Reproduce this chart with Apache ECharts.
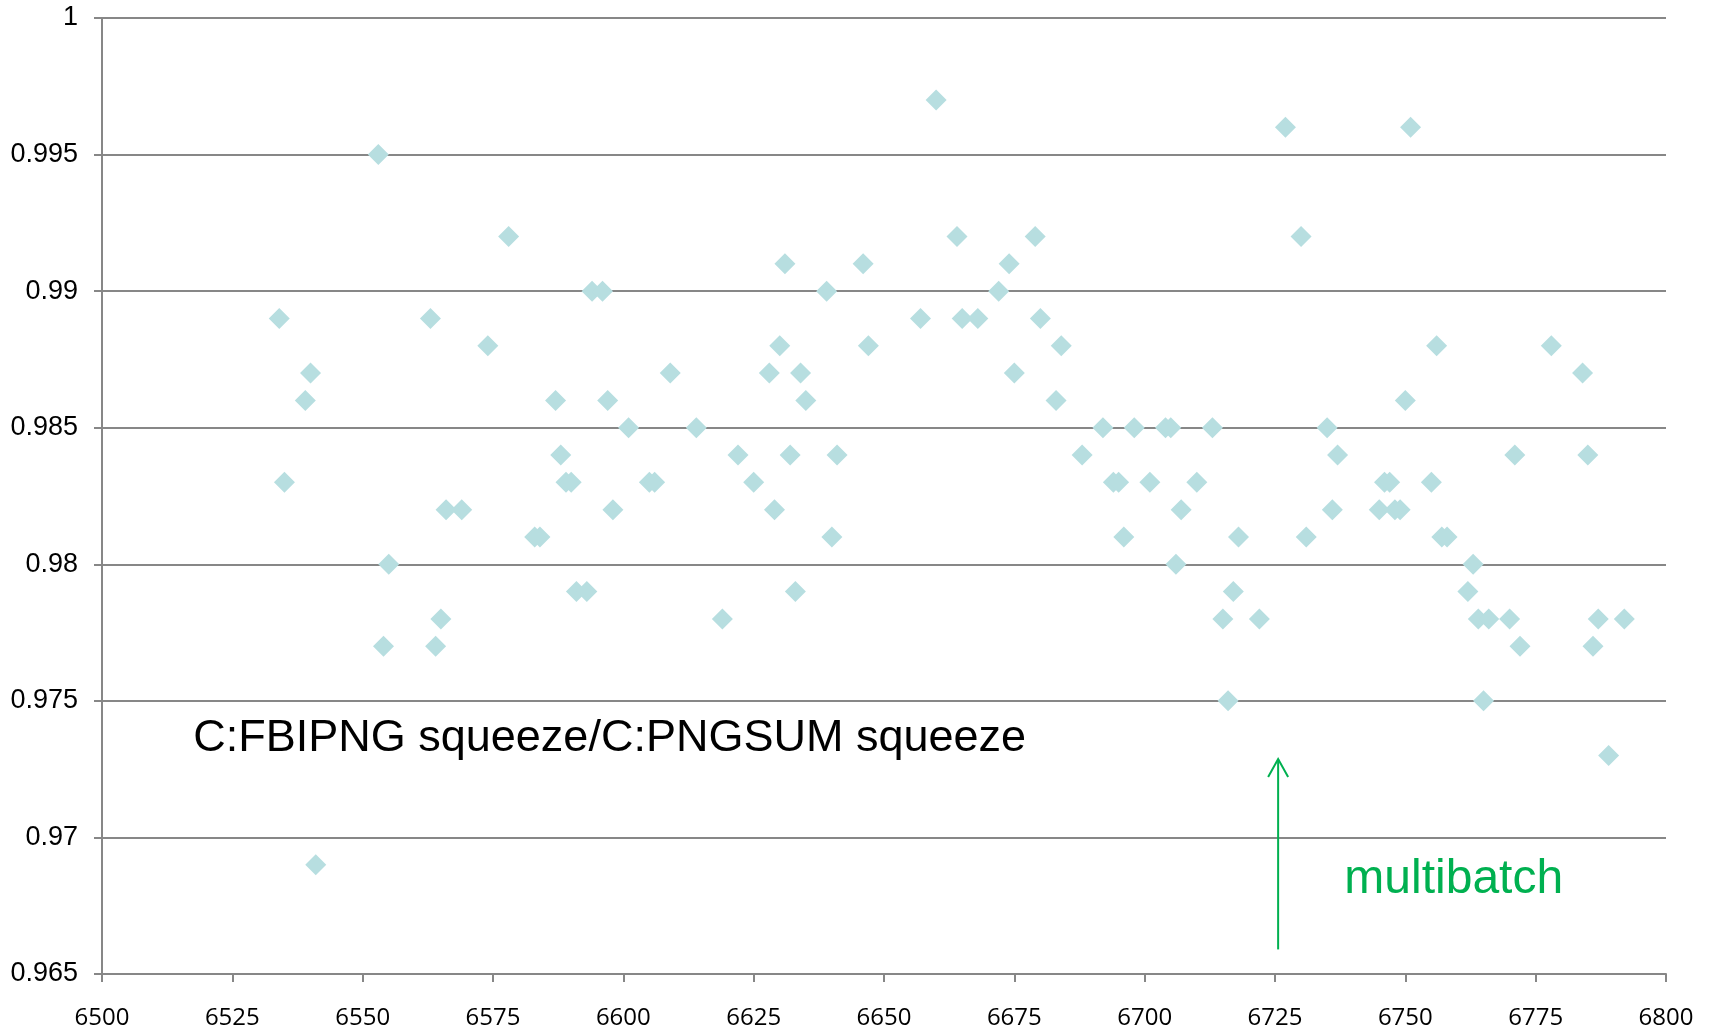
<!DOCTYPE html>
<html>
<head>
<meta charset="utf-8">
<title>C:FBIPNG squeeze / C:PNGSUM squeeze</title>
<script src="https://cdn.jsdelivr.net/npm/echarts@6/dist/echarts.min.js"></script>
<style>
  html, body { margin: 0; padding: 0; background: #ffffff; }
  #chart { width: 1710px; height: 1031px; }
</style>
</head>
<body>
<div id="chart"></div>
<script>
// Build number of each measurement
const builds = [
  6534, 6535, 6539, 6540, 6541, 6553, 6554, 6555, 6563, 6564,
  6565, 6566, 6569, 6574, 6578, 6583, 6584, 6587, 6588, 6589,
  6590, 6591, 6593, 6594, 6596, 6597, 6598, 6601, 6605, 6606,
  6609, 6614, 6619, 6622, 6625, 6628, 6629, 6630, 6631, 6632,
  6633, 6634, 6635, 6639, 6640, 6641, 6646, 6647, 6657, 6660,
  6664, 6665, 6668, 6672, 6674, 6675, 6679, 6680, 6683, 6684,
  6688, 6692, 6694, 6695, 6696, 6698, 6701, 6704, 6705, 6706,
  6707, 6710, 6713, 6715, 6716, 6717, 6718, 6722, 6727, 6730,
  6731, 6735, 6736, 6737, 6745, 6746, 6747, 6748, 6749, 6750,
  6751, 6755, 6756, 6757, 6758, 6762, 6763, 6764, 6765, 6766,
  6770, 6771, 6772, 6778, 6784, 6785, 6786, 6787, 6789, 6792
];

// Size ratio FBIPNG squeeze / PNGSUM squeeze for each build
const ratios = [
  0.989, 0.983, 0.986, 0.987, 0.969, 0.995, 0.977, 0.980, 0.989, 0.977,
  0.978, 0.982, 0.982, 0.988, 0.992, 0.981, 0.981, 0.986, 0.984, 0.983,
  0.983, 0.979, 0.979, 0.990, 0.990, 0.986, 0.982, 0.985, 0.983, 0.983,
  0.987, 0.985, 0.978, 0.984, 0.983, 0.987, 0.982, 0.988, 0.991, 0.984,
  0.979, 0.987, 0.986, 0.990, 0.981, 0.984, 0.991, 0.988, 0.989, 0.997,
  0.992, 0.989, 0.989, 0.990, 0.991, 0.987, 0.992, 0.989, 0.986, 0.988,
  0.984, 0.985, 0.983, 0.983, 0.981, 0.985, 0.983, 0.985, 0.985, 0.980,
  0.982, 0.983, 0.985, 0.978, 0.975, 0.979, 0.981, 0.978, 0.996, 0.992,
  0.981, 0.985, 0.982, 0.984, 0.982, 0.983, 0.983, 0.982, 0.982, 0.986,
  0.996, 0.983, 0.988, 0.981, 0.981, 0.979, 0.980, 0.978, 0.975, 0.978,
  0.978, 0.984, 0.977, 0.988, 0.987, 0.984, 0.977, 0.978, 0.973, 0.978
];

// Axis ranges
const xRange = [6500, 6800];
const xStep = 25;
const yRange = [0.965, 1];
const yStep = 0.005;

// Annotations (anchored in data coordinates)
const titleText = 'C:FBIPNG squeeze/C:PNGSUM squeeze';
const titleAnchor = [6517.5, 0.97363];
const batchText = 'multibatch';
const batchAnchor = [6738.3, 0.96844];
const arrowX = 6725.6;
const arrowFrom = 0.96590;
const arrowTo = 0.97287;

const points = builds.map((b, i) => [b, ratios[i]]);

const gridGray = '#878787';
const green = '#00b050';

const chart = echarts.init(document.getElementById('chart'), null, { renderer: 'canvas' });

chart.setOption({
  animation: false,
  backgroundColor: '#ffffff',
  grid: { left: 102, right: 44, top: 18, bottom: 57, containLabel: false },
  xAxis: {
    type: 'value',
    min: xRange[0],
    max: xRange[1],
    interval: xStep,
    axisLine: { show: true, onZero: false, lineStyle: { color: gridGray, width: 2 } },
    axisTick: { show: true, inside: false, length: 8, lineStyle: { color: gridGray, width: 2 } },
    splitLine: { show: false },
    axisLabel: {
      margin: 32,
      color: '#000000',
      fontFamily: '"Open Sans", sans-serif',
      fontSize: 24,
      formatter: v => String(v)
    }
  },
  yAxis: {
    type: 'value',
    min: yRange[0],
    max: yRange[1],
    interval: yStep,
    axisLine: { show: true, onZero: false, lineStyle: { color: gridGray, width: 2 } },
    axisTick: { show: true, inside: false, length: 8, lineStyle: { color: gridGray, width: 2 } },
    splitLine: { show: true, lineStyle: { color: gridGray, width: 2 } },
    axisLabel: {
      margin: 24,
      color: '#000000',
      fontFamily: '"Liberation Sans", Arial, sans-serif',
      fontSize: 27,
      formatter: v => String(+v.toFixed(3))
    }
  },
  series: [{
    type: 'scatter',
    data: points,
    symbol: 'diamond',
    symbolSize: [21, 21],
    itemStyle: { color: '#b7dee0', opacity: 1 },
    emphasis: { disabled: true }
  }]
});

// Annotation layer: title text, green arrow and its label
function px(pt) {
  return chart.convertToPixel({ gridIndex: 0 }, pt);
}
const tPos = px(titleAnchor);
const bPos = px(batchAnchor);
const aBottom = px([arrowX, arrowFrom]);
const aTop = px([arrowX, arrowTo]);

chart.setOption({
  graphic: [
    {
      type: 'text',
      x: tPos[0], y: tPos[1],
      style: {
        text: titleText,
        fill: '#000000',
        font: '45px "Liberation Sans", Arial, sans-serif',
        align: 'left',
        verticalAlign: 'middle'
      },
      z: 10
    },
    {
      type: 'text',
      x: bPos[0], y: bPos[1],
      style: {
        text: batchText,
        fill: green,
        font: '48px "Liberation Sans", Arial, sans-serif',
        align: 'left',
        verticalAlign: 'middle'
      },
      z: 10
    },
    {
      type: 'line',
      shape: { x1: aBottom[0], y1: aBottom[1], x2: aTop[0], y2: aTop[1] },
      style: { stroke: green, lineWidth: 2 },
      z: 10
    },
    {
      type: 'polyline',
      shape: { points: [[aTop[0] - 10, aTop[1] + 18], [aTop[0], aTop[1]], [aTop[0] + 10, aTop[1] + 18]] },
      style: { stroke: green, lineWidth: 2, fill: null },
      z: 10
    }
  ]
});
</script>
</body>
</html>
